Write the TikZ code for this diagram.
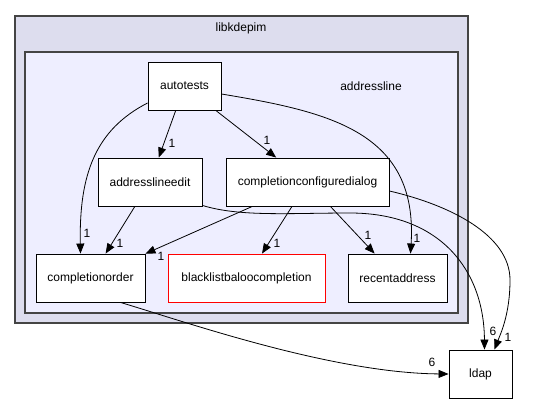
\documentclass[tikz,border=0pt]{standalone}
\usepackage{fontspec}
\setmainfont{Liberation Sans}
\usepackage{tikz}
\usetikzlibrary{arrows.meta}
\definecolor{outerfill}{HTML}{DDDDEE}
\definecolor{innerfill}{HTML}{EEEEFF}
\definecolor{cluline}{HTML}{444444}
\tikzset{
	dirbox/.style={draw=black,fill=white,line width=0.9pt,minimum height=48pt,inner sep=0pt,font=\fontsize{12}{14}\selectfont},
	redbox/.style={dirbox,draw=red},
	clubox/.style={draw=cluline,line width=1.4pt},
	dep/.style={-{Triangle[length=10pt,width=8pt]},draw=black,line width=0.8pt}
}

\begin{document}
\begin{tikzpicture}[x=1pt,y=-1pt,
			cnt/.style={inner sep=0pt,font=\fontsize{12}{14}\selectfont},
			clulabel/.style={inner sep=0pt,font=\fontsize{12}{14}\selectfont}]
			\useasboundingbox (0,0) rectangle (548,404);
			\draw[clubox,fill=outerfill] (15,16) rectangle (468,323);
			\draw[clubox,fill=innerfill] (25,52) rectangle (458,313);
			\node[clulabel] (libkdepim) at (241,28) {libkdepim};
			\node[clulabel] (addressline) at (371,86) {addressline};
			% directories
			\node[dirbox,minimum width=73pt] (autotests) at (184.5,86) {autotests};
			\node[dirbox,minimum width=104pt] (aledit) at (150,182) {addresslineedit};
			\node[dirbox,minimum width=163pt] (ccd) at (307.5,182) {completionconfiguredialog};
			\node[dirbox,minimum width=109pt] (corder) at (90.5,278) {completionorder};
			\node[redbox,minimum width=157pt] (blacklist) at (246.5,278) {blacklistbaloocompletion};
			\node[dirbox,minimum width=99pt] (recent) at (397.5,278) {recentaddress};
			\node[dirbox,minimum width=63pt] (ldap) at (480.5,374) {ldap};
			% dependencies
			\draw[dep] (autotests) -- (aledit);
			\draw[dep] (autotests) -- (ccd);
			\draw[dep] ([yshift=-17pt]autotests.west) .. controls (95,130) and (79,175) .. ([xshift=-10pt]corder.north);
			\draw[dep] ([yshift=-8pt]autotests.east) .. controls (330,112) and (418,132) .. ([xshift=13pt]recent.north);
			\draw[dep] (aledit) -- (corder);
			\draw[dep] (ccd) -- (corder);
			\draw[dep] (ccd) -- (blacklist);
			\draw[dep] (ccd) -- (recent);
			\draw[dep] ([yshift=-9pt]ccd.east) .. controls (450,205) and (510,235) .. (510,280)
				.. controls (510,315) and (500,335) .. ([xshift=14pt]ldap.north);
			\draw[dep] ([yshift=1pt]aledit.south east) .. controls (240,217) and (290,213) .. (350,213)
				.. controls (440,213) and (484,270) .. ([xshift=4pt]ldap.north);
			\draw[dep] ([xshift=30pt]corder.south) .. controls (180,320) and (330,373) .. (ldap.west);
			% counts
			\node[cnt] (c1) at (172,143) {1};
			\node[cnt] (c2) at (267,140) {1};
			\node[cnt] (c3) at (87,233) {1};
			\node[cnt] (c4) at (120,243) {1};
			\node[cnt] (c5) at (161,256) {1};
			\node[cnt] (c6) at (277,243) {1};
			\node[cnt] (c7) at (368,235) {1};
			\node[cnt] (c8) at (417,238) {1};
			\node[cnt] (c9) at (493,331) {6};
			\node[cnt] (c10) at (508,337) {1};
			\node[cnt] (c11) at (432,362) {6};
		\end{tikzpicture}
\end{document}
